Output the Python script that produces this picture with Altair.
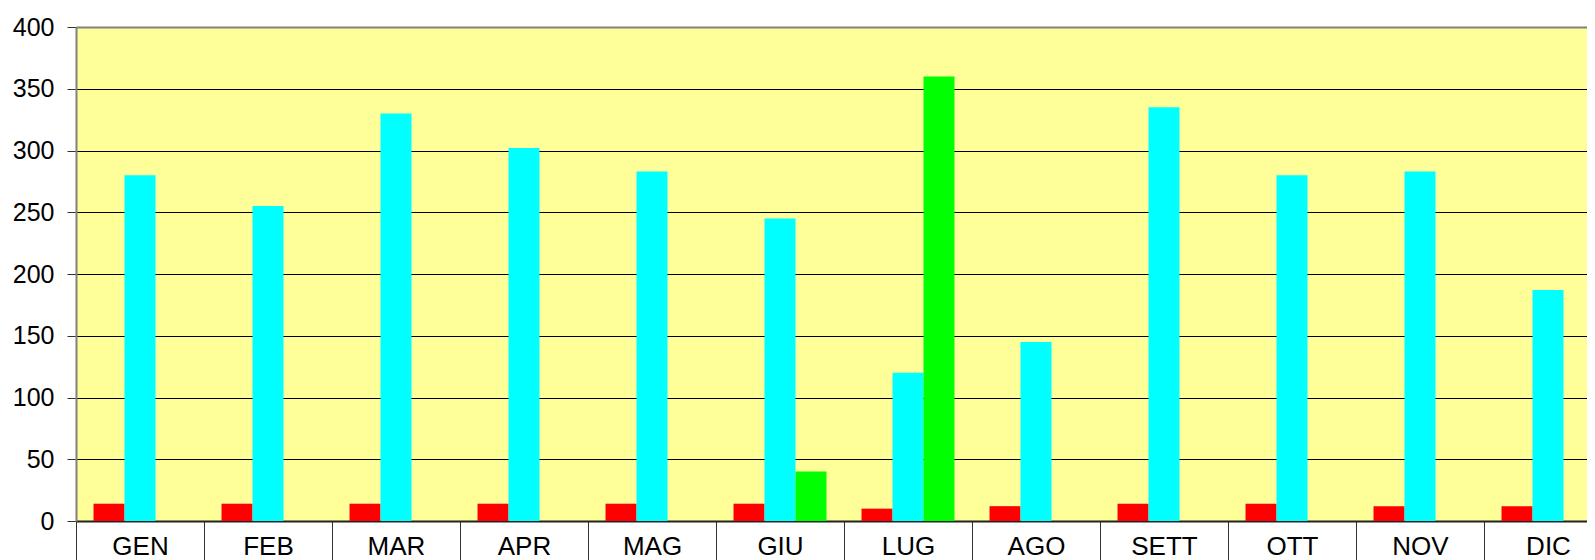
import altair as alt
import pandas as pd

months = ["GEN", "FEB", "MAR", "APR", "MAG", "GIU", "LUG", "AGO", "SETT", "OTT", "NOV", "DIC"]
series = ["Serie 1", "Serie 2", "Serie 3"]
colors = ["#FF0000", "#00FFFF", "#00FF00"]
serie_rossa = [14, 14, 14, 14, 14, 14, 10, 12, 14, 14, 12, 12]
serie_ciano = [280, 255, 330, 302, 283, 245, 120, 145, 335, 280, 283, 187]
serie_verde = [None, None, None, None, None, 40, 360, None, None, None, None, None]
y_ticks = [0, 50, 100, 150, 200, 250, 300, 350, 400]

rows = []
for name, vals in zip(series, [serie_rossa, serie_ciano, serie_verde]):
    for m, v in zip(months, vals):
        if v is not None:
            rows.append({"mese": m, "serie": name, "valore": v})
df = pd.DataFrame(rows)

font = "Liberation Sans"

chart = alt.Chart(df).mark_bar().encode(
    x=alt.X(
        "mese:N",
        sort=months,
        scale=alt.Scale(domain=months, range=[0, 1536], paddingInner=0, paddingOuter=0),
        axis=alt.Axis(
            title=None, labelAngle=0, tickBand="extent", tickSize=40, labelPadding=-28,
            labelFontSize=26, labelFont=font, labelColor="black",
            domainColor="#222222", domainWidth=2, tickColor="#333333", tickWidth=1, grid=False,
        ),
    ),
    xOffset=alt.XOffset(
        "serie:N", sort=series,
        scale=alt.Scale(domain=series, paddingInner=0, paddingOuter=0.565),
    ),
    y=alt.Y(
        "valore:Q",
        scale=alt.Scale(domain=[0, 400]),
        axis=alt.Axis(
            title=None, values=y_ticks, labelFontSize=25, labelFont=font, labelColor="black",
            tickSize=9, labelPadding=13, tickColor="#333333",
            domainColor="#808080", domainWidth=2,
            gridColor=alt.condition("datum.value == 400", alt.value("#808080"), alt.value("black")),
            gridWidth=alt.condition("datum.value == 400", alt.value(2), alt.value(1)),
        ),
    ),
    color=alt.Color("serie:N", scale=alt.Scale(domain=series, range=colors), legend=None),
).properties(
    width=1511,
    height=494,
    autosize=alt.AutoSizeParams(type="none"),
    padding={"left": 68, "top": 19, "right": 0, "bottom": 39},
).configure_view(
    fill="#FFFF99", strokeWidth=0
)

chart.save("out.html", embed_options={"renderer": "svg", "actions": False})
